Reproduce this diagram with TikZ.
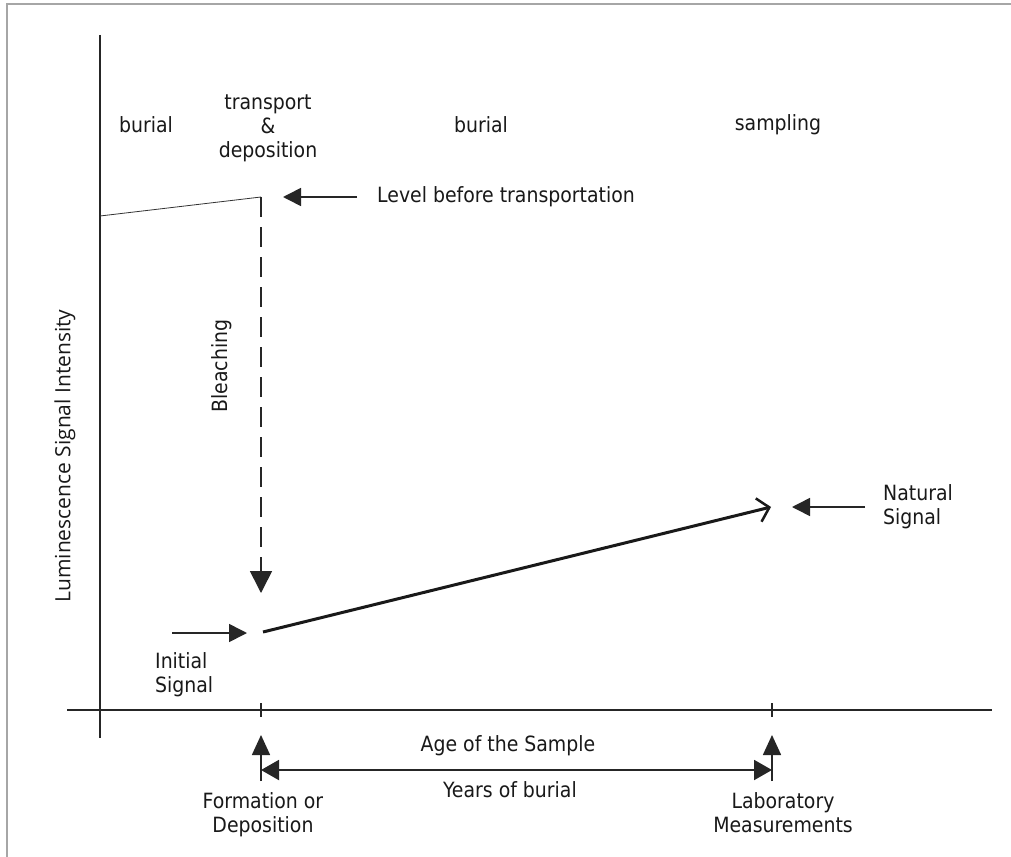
\documentclass[tikz,border=0pt]{standalone}
\usepackage{fontspec}
\setmainfont{DejaVu Sans Condensed}
\newfontfamily\axisfont{Open Sans}
\usetikzlibrary{arrows.meta}
\begin{document}
\begin{tikzpicture}[x=1pt,y=-1pt,
  lbl/.style={inner sep=0pt,font=\fontsize{21}{24}\selectfont,text=black!90},
  axisline/.style={line width=2pt,black!85},
  fillarrow/.style={line width=1.6pt,black!85,-{Triangle[length=18pt,width=18pt]}},
  bigarrow/.style={line width=1.6pt,black!85,-{Triangle[length=22pt,width=22pt]}}]
\useasboundingbox (0,0) rectangle (1011,856);
\fill[white] (0,0) rectangle (1011,856);
\draw[gray!70,line width=1.5pt] (7,900) -- (7,4) -- (1050,4);
% axes
\coordinate (ytop) at (100,35);
\coordinate (ybot) at (100,738);
\coordinate (xl) at (67,710);
\coordinate (xr) at (992,710);
\draw[axisline] (ytop) -- (ybot);
\draw[axisline] (xl) -- (xr);
\coordinate (t1a) at (261,703); \coordinate (t1b) at (261,717);
\coordinate (t2a) at (772,703); \coordinate (t2b) at (772,717);
\draw[line width=1.5pt,black!85] (t1a) -- (t1b);
\draw[line width=1.5pt,black!85] (t2a) -- (t2b);
% axis label
\node[inner sep=0pt,rotate=90,font=\axisfont\fontsize{21}{24}\selectfont,text=black!90] (ylab) at (65,456) {Luminescence Signal Intensity};
% top labels
\node[lbl] (bur1) at (146,125) {burial};
\node[lbl,align=center] (trans) at (268,128) {transport\\\&\\deposition};
\node[lbl] (bur2) at (481,125) {burial};
\node[lbl] (samp) at (778,125) {sampling};
% level before
\coordinate (l0) at (100,216);
\coordinate (l1) at (261,197);
\draw[line width=0.8pt,black!80] (l0) -- (l1);
\coordinate (bl) at (261,593);
\draw[bigarrow,dash pattern=on 20pt off 10pt] (l1) -- (bl);
\node[lbl,rotate=90] (bleach) at (222,366) {Bleaching};
\node[lbl,anchor=west] (level) at (377,197) {Level before transportation};
\coordinate (la) at (357,197);
\coordinate (lb) at (283,197);
\draw[fillarrow] (la) -- (lb);
% initial signal
\coordinate (ia) at (172,633);
\coordinate (ib) at (247,633);
\draw[fillarrow] (ia) -- (ib);
\node[lbl,align=left,anchor=north west] (init) at (155,652) {Initial\\Signal};
% growth line
\coordinate (g0) at (263,632);
\coordinate (g1) at (771,507);
\draw[line width=3pt,black!90,-{Straight Barb[length=11pt,width=24pt,line width=2.5pt]}] (g0) -- (g1);
% natural signal
\coordinate (na) at (865,507);
\coordinate (nb) at (792,507);
\draw[fillarrow] (na) -- (nb);
\node[lbl,align=left,anchor=north west] (nat) at (883,484) {Natural\\Signal};
% bottom
\coordinate (u1a) at (261,781); \coordinate (u1b) at (261,735);
\coordinate (u2a) at (772,781); \coordinate (u2b) at (772,735);
\draw[line width=1.6pt,black!85,-{Triangle[length=20pt,width=18pt]}] (u1a) -- (u1b);
\draw[line width=1.6pt,black!85,-{Triangle[length=20pt,width=18pt]}] (u2a) -- (u2b);
\coordinate (da) at (261,770); \coordinate (db) at (772,770);
\draw[line width=2pt,black!85,{Triangle[length=18pt,width=20pt]}-{Triangle[length=18pt,width=20pt]}] (da) -- (db);
\node[lbl] (age) at (508,746) {Age of the Sample};
\node[lbl] (years) at (510,790) {Years of burial};
\node[lbl,align=center,anchor=north] (form) at (263,792) {Formation or\\Deposition};
\node[lbl,align=center,anchor=north] (lab) at (783,792) {Laboratory\\Measurements};
\end{tikzpicture}
\end{document}
